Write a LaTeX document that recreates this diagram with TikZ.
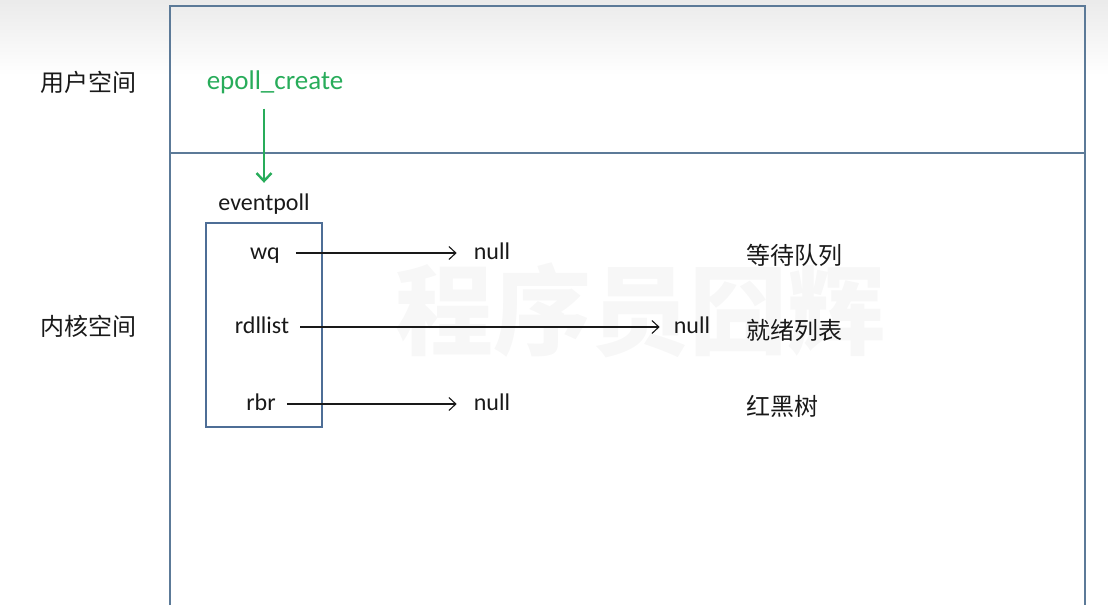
\documentclass[tikz,border=0pt]{standalone}
\usepackage{fontspec}
\setmainfont{Carlito}
\newfontfamily\cjk{Noto Sans CJK SC}
\usetikzlibrary{arrows.meta}
\definecolor{framec}{RGB}{92,122,152}
\definecolor{boxc}{RGB}{78,110,150}
\definecolor{grn}{RGB}{40,172,90}
\definecolor{txt}{RGB}{25,25,25}
\begin{document}
\begin{tikzpicture}[x=1pt,y=-1pt,
  lbl/.style={font=\fontsize{24}{28}\selectfont, text=txt, text height=17pt, text depth=5pt, inner sep=0pt},
  glbl/.style={font=\fontsize{27}{31}\selectfont, text=grn, text height=19pt, text depth=6pt, inner sep=0pt},
  cn/.style={font=\cjk\fontsize{24}{28}\selectfont, text=txt, inner sep=0pt},
  frame/.style={draw=framec, line width=1.5pt},
  ptr/.style={draw=txt, line width=1.1pt, -{Straight Barb[length=7pt,width=13pt,line width=1.1pt]}},
  gptr/.style={draw=grn, line width=2.4pt, -{Straight Barb[length=8pt,width=15pt,line width=2.4pt]}}
]
\useasboundingbox (0,0) rectangle (1108,605);
\shade[top color=black!8, bottom color=white, draw=none] (0,0) rectangle (1108,75);
% watermark
\node[font=\cjk\bfseries\fontsize{98}{98}\selectfont, text=black!3, inner sep=0pt] (wm) at (640,310) {程序员囧辉};
% frame
\draw[frame] (170,605) -- (170,6) -- (1085,6) -- (1085,605);
\draw[frame] (170,153) -- (1085,153);
% side labels
\node[cn] (us) at (88,82) {用户空间};
\node[cn] (ks) at (88,326) {内核空间};
% user space
\node[glbl] (ec) at (275,83) {epoll\_create};
\node[lbl] (ep) at (264,204) {eventpoll};
\draw[gptr, shorten <=13pt, shorten >=10pt] (ep.north |- ec.south) -- (ep.north);
% eventpoll box
\node[draw=boxc, line width=1.2pt, minimum width=116pt, minimum height=204pt, inner sep=0pt] (box) at (264,325) {};
\node[lbl] (wq) at (265,253) {wq};
\node[lbl] (rd) at (262,327) {rdllist};
\node[lbl] (rb) at (261,404) {rbr};
\node[lbl] (n1) at (492,253) {null};
\node[lbl] (n2) at (692,327) {null};
\node[lbl] (n3) at (492,404) {null};
\draw[ptr, shorten <=16pt, shorten >=17pt] (wq) -- (n1);
\draw[ptr, shorten <=11pt, shorten >=14pt] (rd) -- (n2);
\draw[ptr, shorten <=11pt, shorten >=17pt] (rb) -- (n3);
% right labels
\node[cn, anchor=west] (l1) at (746,255) {等待队列};
\node[cn, anchor=west] (l2) at (746,330) {就绪列表};
\node[cn, anchor=west] (l3) at (746,406) {红黑树};
\end{tikzpicture}
\end{document}
